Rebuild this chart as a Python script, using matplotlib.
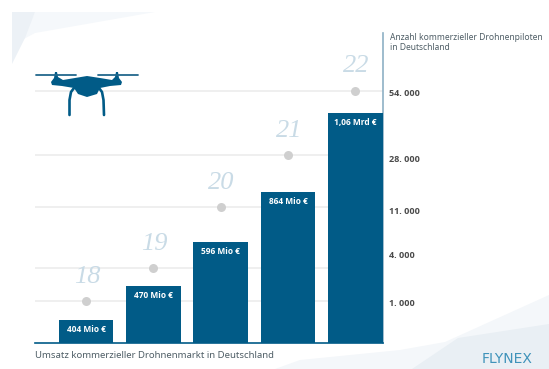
import numpy as np
import matplotlib
matplotlib.use('Agg')
import matplotlib.pyplot as plt
from matplotlib.patches import Polygon

plt.rcParams['font.family'] = ['Open Sans', 'DejaVu Sans']

# market revenue in Mio EUR and commercial pilots per year
years = ['18', '19', '20', '21', '22']
umsatz = [404, 470, 596, 864, 1060]
umsatz_labels = ['404 Mio €', '470 Mio €', '596 Mio €', '864 Mio €', '1,06 Mrd €']
piloten = [1000, 4000, 11000, 28000, 54000]
piloten_labels = ['1. 000', '4. 000', '11. 000', '28. 000', '54. 000']

# both value axes are drawn non linear, height in px for given value
umsatz_knots = [340, 404, 470, 596, 864, 1060, 1400]
umsatz_px = [0, 23, 57, 101, 151, 230, 310]
piloten_knots = [0, 1000, 4000, 11000, 28000, 54000, 80000]
piloten_px = [0, 42, 75, 136, 188, 252.5, 310]

BLUE = '#015b87'
W, H = 549, 369


def make_scale(knots, px):
    return (lambda v: np.interp(v, knots, px), lambda p: np.interp(p, px, knots))


fig = plt.figure(figsize=(W / 100, H / 100), dpi=100, facecolor='white')

# background shapes and logo, in pixel coordinates
bg = fig.add_axes([0, 0, 1, 1], zorder=0)
bg.set_xlim(0, W)
bg.set_ylim(H, 0)
bg.axis('off')
bg.add_patch(Polygon([(35, 12), (155, 12), (35, 33), (22, 40)], color='#f5f8fb', lw=0))
bg.add_patch(Polygon([(12, 12), (35, 12), (25, 38), (12, 64)], color='#ecf1f6', lw=0))
bg.add_patch(Polygon([(549, 295), (445, 342), (400, 350), (300, 360), (275, 369), (549, 369)],
                     color='#f4f7fa', lw=0))
bg.add_patch(Polygon([(549, 324), (458, 338), (412, 369), (549, 369)], color='#e9eff4', lw=0))
bg.text(507, 359, 'FLYNEX', family='DejaVu Sans', fontsize=10, color='#3f93ba', ha='center', va='center')

# main chart
ax2 = fig.add_axes([35 / W, (H - 343) / H, 348 / W, 310 / H], zorder=1)
ax = fig.add_axes([35 / W, (H - 343) / H, 348 / W, 310 / H], zorder=2, sharex=ax2)
ax.patch.set_visible(False)
ax2.patch.set_visible(False)

x = np.arange(len(years))
ax2.set_xlim(-0.757, 4.41)
ax2.set_yscale('function', functions=make_scale(piloten_knots, piloten_px))
ax2.set_ylim(0, 80000)
ax.set_yscale('function', functions=make_scale(umsatz_knots, umsatz_px))
ax.set_ylim(340, 1400)

# pilots: grid lines, dots, year labels
for i in range(len(years)):
    ax2.axhline(piloten[i], color='#ececec', lw=1.2, zorder=1)
ax2.scatter(x, piloten, s=42, color='#cfcfcf', zorder=2, linewidths=0)
for i in range(len(years)):
    ax2.annotate(years[i], (x[i], piloten[i]), xytext=(1, 24), textcoords='offset pixels',
                 family='Liberation Serif', style='italic', fontsize=19, color='#c9dbe6',
                 ha='center', va='center')

# offsets of the labels on the right side, they do not sit exactly on the lines
label_shift = [-2, 12, -4, -4, -3]
for i in range(len(piloten)):
    ax2.annotate(piloten_labels[i], (1, piloten[i]), xycoords=ax2.get_yaxis_transform(),
                 xytext=(6, label_shift[i]), textcoords='offset pixels', fontsize=6.5,
                 fontweight='bold', color='#4a4a4a', ha='left', va='center')

# revenue bars, starting at the bottom of the axis
ax.bar(x, np.array(umsatz) - 340, width=0.81, bottom=340, color=BLUE, zorder=3)
for i in range(len(years)):
    ax.annotate(umsatz_labels[i], (x[i], umsatz[i]), xytext=(0, -9), textcoords='offset pixels',
                fontsize=6, fontweight='bold', color='white', ha='center', va='center', zorder=4)

for a in (ax, ax2):
    a.set_xticks([])
    a.set_yticks([])
    a.minorticks_off()
    for s in a.spines.values():
        s.set_visible(False)
ax.spines['bottom'].set_visible(True)
ax.spines['bottom'].set_color(BLUE)
ax.spines['bottom'].set_linewidth(1.2)
ax.spines['right'].set_visible(True)
ax.spines['right'].set_color('#8db0c5')
ax.spines['right'].set_linewidth(1.2)

# drone icon and captions on top
fg = fig.add_axes([0, 0, 1, 1], zorder=3)
fg.set_xlim(0, W)
fg.set_ylim(H, 0)
fg.axis('off')
body = [(51, 82), (54, 78), (55, 72), (57, 72), (58, 77), (63, 80), (75, 78), (87, 76), (100, 78),
        (112, 80), (115, 77), (116, 72), (118, 72), (119, 78), (122, 82), (121, 85), (110, 86),
        (100, 88), (97, 94), (87, 97), (78, 94), (74, 88), (62, 86), (52, 85)]
fg.add_patch(Polygon(body, color=BLUE, lw=0))
fg.plot([36, 76], [74.5, 74.5], color='#22688c', lw=1.3, solid_capstyle='round')
fg.plot([98, 138], [74.5, 74.5], color='#22688c', lw=1.3, solid_capstyle='round')
fg.plot([74, 71, 69.5, 69.5], [88, 92, 100, 115], color=BLUE, lw=1.9, solid_capstyle='round')
fg.plot([99, 102, 103.5, 104], [88, 92, 100, 115], color=BLUE, lw=1.9, solid_capstyle='round')

fg.text(390, 37, 'Anzahl kommerzieller Drohnenpiloten', family='Noto Sans', fontsize=6.1, color='#4f5e66',
        ha='left', va='center')
fg.text(390, 48, 'in Deutschland', family='Noto Sans', fontsize=6.1, color='#4f5e66', ha='left', va='center')
fg.text(35, 355, 'Umsatz kommerzieller Drohnenmarkt in Deutschland', family='Noto Sans', fontsize=6.9,
        color='#4f5e66', ha='left', va='center')

fig.savefig('out.png', dpi=100)
